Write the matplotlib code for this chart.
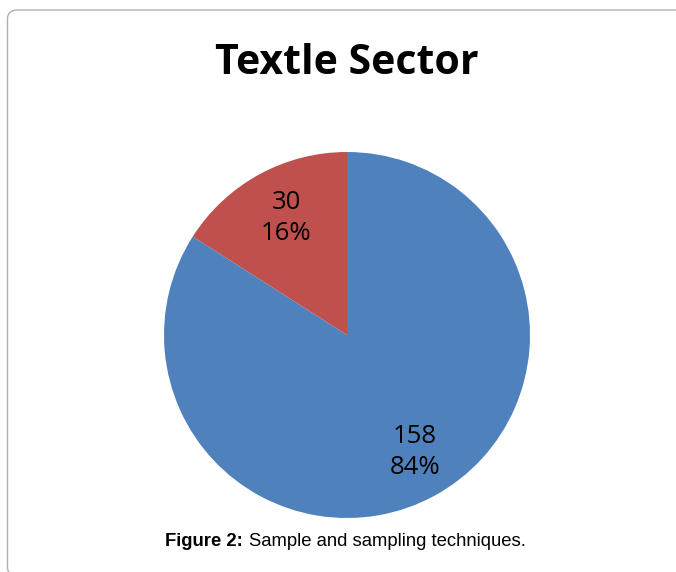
import numpy as np
import matplotlib.pyplot as plt
from matplotlib.patches import FancyBboxPatch

# data
labels = ['Textile', 'Other']
counts = [158, 30]
colors = ['#4F81BD', '#C0504D']

W, H = 676, 572
fig = plt.figure(figsize=(W / 100, H / 100), dpi=100)

# grey rounded frame (right and bottom edges run off the picture)
frame = FancyBboxPatch((7.5 / W, -4 / H), 720 / W, (H - 10 + 4) / H,
                       boxstyle='round,pad=0,rounding_size=0.015',
                       transform=fig.transFigure, fill=False,
                       edgecolor='#b0b0b0', linewidth=1.0)
fig.patches.append(frame)

# pie centred at (347, 335) px with radius 183 px
cx, cy, r = 347, 335, 183
ax = fig.add_axes([(cx - r) / W, (H - cy - r) / H, 2 * r / W, 2 * r / H])

total = sum(counts)
wedges = ax.pie(counts, colors=colors, startangle=90, counterclock=False,
                radius=1.0)[0]
for w, n in zip(wedges, counts):
    ang = np.deg2rad((w.theta1 + w.theta2) / 2)
    ax.text(0.73 * np.cos(ang) + 0.02, 0.73 * np.sin(ang),
            '%d\n%d%%' % (n, round(100 * n / total)),
            ha='center', va='center', fontsize=18.5, family='Open Sans',
            linespacing=1.32, color='black')
ax.set_xlim(-1, 1)
ax.set_ylim(-1, 1)
ax.set_aspect('equal')
ax.axis('off')

fig.text(347 / W, 1 - 64 / H, 'Textle Sector', ha='center', va='center',
         fontsize=29.5, fontweight='bold', family='Open Sans')

# caption: bold part + regular part
fig.text(243 / W, 1 - 541 / H, 'Figure 2:', ha='right', va='center',
         fontsize=13.3, fontweight='bold', family='Liberation Sans')
fig.text(249 / W, 1 - 541 / H, 'Sample and sampling techniques.', ha='left',
         va='center', fontsize=13.3, family='Liberation Sans')

fig.savefig('out.png', dpi=100)
